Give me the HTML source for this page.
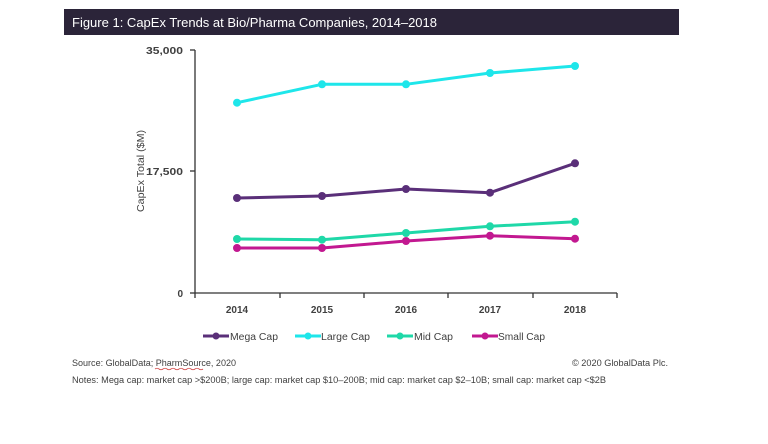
<!DOCTYPE html>
<html><head><meta charset="utf-8"><style>
html,body{margin:0;padding:0;background:#fff;}
svg{display:block;}
</style></head><body>
<svg width="768" height="444" viewBox="0 0 768 444" xmlns="http://www.w3.org/2000/svg" font-family="Liberation Sans, sans-serif">
<rect x="0" y="0" width="768" height="444" fill="#fff"/>
<rect x="64" y="9" width="615" height="26" fill="#2b2439"/>
<text x="72" y="27" font-size="13" fill="#ffffff" textLength="365" lengthAdjust="spacingAndGlyphs">Figure 1: CapEx Trends at Bio/Pharma Companies, 2014–2018</text>

<!-- axes -->
<g stroke="#333" stroke-width="1.3" fill="none">
<line x1="195" y1="50" x2="195" y2="293"/>
<line x1="195" y1="293" x2="617" y2="293"/>
<line x1="190" y1="50" x2="195" y2="50"/>
<line x1="190" y1="171" x2="195" y2="171"/>
<line x1="190" y1="293" x2="195" y2="293"/>
<line x1="195" y1="293" x2="195" y2="298"/>
<line x1="280" y1="293" x2="280" y2="298"/>
<line x1="364" y1="293" x2="364" y2="298"/>
<line x1="448" y1="293" x2="448" y2="298"/>
<line x1="533" y1="293" x2="533" y2="298"/>
<line x1="617" y1="293" x2="617" y2="298"/>
</g>
<g font-size="10" font-weight="bold" fill="#404040" text-anchor="end">
<text x="183" y="54" textLength="37" lengthAdjust="spacingAndGlyphs">35,000</text>
<text x="183" y="175" textLength="37" lengthAdjust="spacingAndGlyphs">17,500</text>
<text x="183" y="297">0</text>
</g>
<text transform="translate(144,171) rotate(-90)" font-size="10" fill="#404040" text-anchor="middle" textLength="82" lengthAdjust="spacingAndGlyphs">CapEx Total ($M)</text>
<g font-size="10" font-weight="bold" fill="#404040" text-anchor="middle">
<text x="237" y="313">2014</text>
<text x="322" y="313">2015</text>
<text x="406" y="313">2016</text>
<text x="490" y="313">2017</text>
<text x="575" y="313">2018</text>
</g>

<!-- series -->
<g stroke-width="3" fill="none" stroke-linejoin="round">
<polyline stroke="#1ee6ea" points="237,102.7 322,84.3 406,84.3 490,73 575,66"/>
<polyline stroke="#5a2f79" points="237,198 322,196 406,189 490,192.7 575,163.3"/>
<polyline stroke="#1fd8a8" points="237,239 322,239.7 406,233 490,226.3 575,221.7"/>
<polyline stroke="#c21890" points="237,248 322,248 406,241 490,235.7 575,238.7"/>
</g>
<g fill="#1ee6ea"><circle cx="237" cy="102.7" r="4"/><circle cx="322" cy="84.3" r="4"/><circle cx="406" cy="84.3" r="4"/><circle cx="490" cy="73" r="4"/><circle cx="575" cy="66" r="4"/></g>
<g fill="#5a2f79"><circle cx="237" cy="198" r="4"/><circle cx="322" cy="196" r="4"/><circle cx="406" cy="189" r="4"/><circle cx="490" cy="192.7" r="4"/><circle cx="575" cy="163.3" r="4"/></g>
<g fill="#1fd8a8"><circle cx="237" cy="239" r="4"/><circle cx="322" cy="239.7" r="4"/><circle cx="406" cy="233" r="4"/><circle cx="490" cy="226.3" r="4"/><circle cx="575" cy="221.7" r="4"/></g>
<g fill="#c21890"><circle cx="237" cy="248" r="4"/><circle cx="322" cy="248" r="4"/><circle cx="406" cy="241" r="4"/><circle cx="490" cy="235.7" r="4"/><circle cx="575" cy="238.7" r="4"/></g>

<!-- legend -->
<g stroke-width="3">
<line x1="203" y1="336" x2="229" y2="336" stroke="#5a2f79"/>
<line x1="295" y1="336" x2="321" y2="336" stroke="#1ee6ea"/>
<line x1="387" y1="336" x2="413" y2="336" stroke="#1fd8a8"/>
<line x1="472" y1="336" x2="498" y2="336" stroke="#c21890"/>
</g>
<circle cx="216" cy="336" r="3.5" fill="#5a2f79"/>
<circle cx="308" cy="336" r="3.5" fill="#1ee6ea"/>
<circle cx="400" cy="336" r="3.5" fill="#1fd8a8"/>
<circle cx="485" cy="336" r="3.5" fill="#c21890"/>
<g font-size="10" fill="#404040">
<text x="230" y="340" textLength="48" lengthAdjust="spacingAndGlyphs">Mega Cap</text>
<text x="321" y="340" textLength="49" lengthAdjust="spacingAndGlyphs">Large Cap</text>
<text x="414" y="340" textLength="39" lengthAdjust="spacingAndGlyphs">Mid Cap</text>
<text x="498" y="340" textLength="47" lengthAdjust="spacingAndGlyphs">Small Cap</text>
</g>

<!-- footer -->
<g font-size="9" fill="#404040">
<text x="72" y="366" textLength="164" lengthAdjust="spacingAndGlyphs">Source: GlobalData; PharmSource, 2020</text>
<text x="572" y="366" textLength="96" lengthAdjust="spacingAndGlyphs">© 2020 GlobalData Plc.</text>
<text x="72" y="383" textLength="534" lengthAdjust="spacingAndGlyphs">Notes: Mega cap: market cap &gt;$200B; large cap: market cap $10–200B; mid cap: market cap $2–10B; small cap: market cap &lt;$2B</text>
</g>
<path d="M155,369 q2,-1.5 4,0 t4,0 t4,0 t4,0 t4,0 t4,0 t4,0 t4,0 t4,0 t4,0 t4,0 t4,0" stroke="#d04040" stroke-width="0.8" fill="none"/>
</svg>
</body></html>
